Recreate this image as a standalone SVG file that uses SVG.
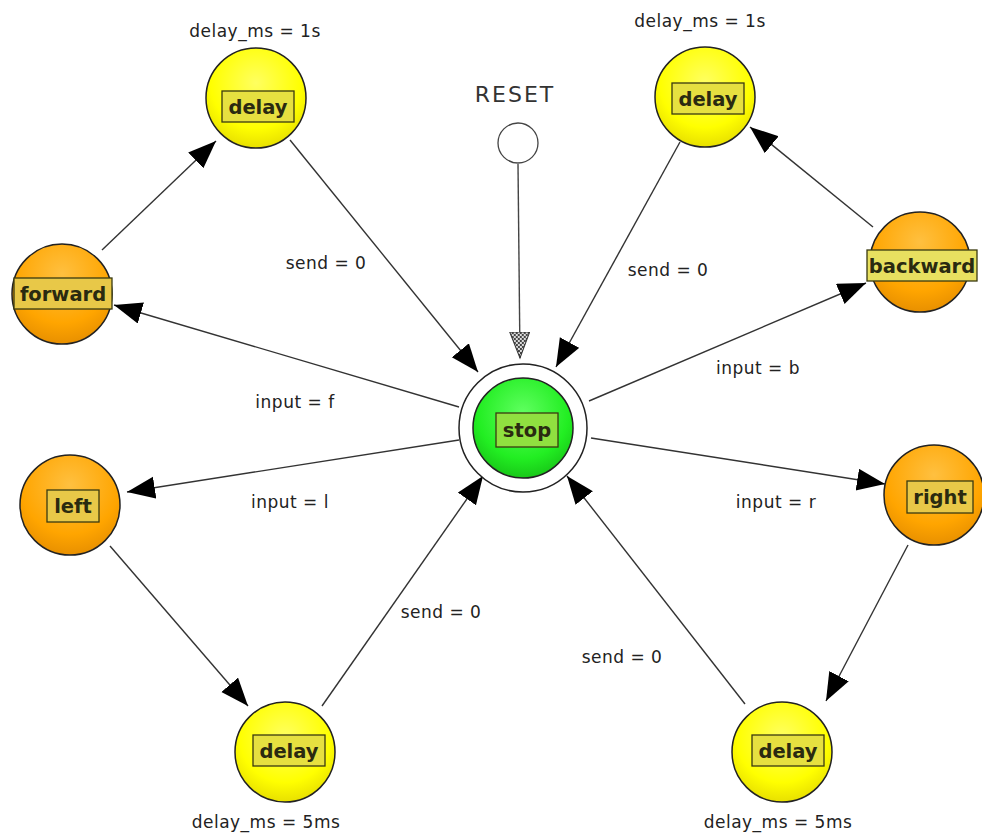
<svg xmlns="http://www.w3.org/2000/svg" width="982" height="834" viewBox="0 0 982 834">
  <style>
    .edge { stroke: #333; stroke-width: 1.4; fill: none; marker-end: url(#arrow); }
    .init { stroke: #444; stroke-width: 1.4; fill: none; marker-end: url(#hatched); }
    .ring { stroke: #222; stroke-width: 1.5; }
    .tag { stroke: #3a3a10; stroke-width: 1.3; }
    .name { font-family: "DejaVu Sans", Verdana, sans-serif; font-weight: bold; font-size: 19.5px; fill: #2a2a10; text-anchor: middle; }
    .lbl { font-family: "DejaVu Sans", Verdana, sans-serif; font-size: 17px; letter-spacing: 0.5px; fill: #222; text-anchor: middle; }
  </style>
  <defs>
    <marker id="arrow" markerUnits="userSpaceOnUse" markerWidth="30" markerHeight="24" refX="28" refY="11" orient="auto">
      <path d="M0,0 L28,11 L0,22 Z" fill="#000"/>
    </marker>
    <pattern id="check" width="4" height="4" patternUnits="userSpaceOnUse">
      <rect width="4" height="4" fill="#ddd"/>
      <rect width="2" height="2" fill="#444"/>
      <rect x="2" y="2" width="2" height="2" fill="#444"/>
    </pattern>
    <marker id="hatched" markerUnits="userSpaceOnUse" markerWidth="30" markerHeight="24" refX="26" refY="10" orient="auto">
      <path d="M0,0 L26,10 L0,20 Z" fill="url(#check)" stroke="#333" stroke-width="1"/>
    </marker>
    <radialGradient id="gYellow" cx="0.5" cy="0.35" r="0.65">
      <stop offset="0" stop-color="#ffff60"/>
      <stop offset="0.7" stop-color="#ffff00"/>
      <stop offset="1" stop-color="#e8e000"/>
    </radialGradient>
    <radialGradient id="gOrange" cx="0.5" cy="0.3" r="0.7">
      <stop offset="0" stop-color="#ffc040"/>
      <stop offset="0.7" stop-color="#ffa500"/>
      <stop offset="1" stop-color="#e89000"/>
    </radialGradient>
    <radialGradient id="gGreen" cx="0.5" cy="0.35" r="0.65">
      <stop offset="0" stop-color="#60ff60"/>
      <stop offset="0.7" stop-color="#22ee22"/>
      <stop offset="1" stop-color="#18c818"/>
    </radialGradient>
  </defs>

  <rect width="982" height="834" fill="#fff"/>

  <!-- transitions -->
  <g id="connectors">
    <line class="init" x1="518" y1="164" x2="520" y2="358"/>
    <line class="edge" x1="290" y1="140" x2="478" y2="372"/>
    <line class="edge" x1="102" y1="250" x2="216" y2="141"/>
    <line class="edge" x1="459" y1="407" x2="114" y2="305"/>
    <line class="edge" x1="459" y1="440" x2="127" y2="492"/>
    <line class="edge" x1="110" y1="546" x2="248" y2="706"/>
    <line class="edge" x1="322" y1="706" x2="483" y2="476"/>
    <line class="edge" x1="745" y1="704" x2="567" y2="476"/>
    <line class="edge" x1="908" y1="545" x2="826" y2="701"/>
    <line class="edge" x1="591" y1="438" x2="885" y2="484"/>
    <line class="edge" x1="589" y1="401" x2="866" y2="283"/>
    <line class="edge" x1="873" y1="227" x2="750" y2="127"/>
    <line class="edge" x1="680" y1="142" x2="556" y2="367"/>

    <text class="lbl" x="326" y="269">send = 0</text>
    <text class="lbl" x="668" y="276">send = 0</text>
    <text class="lbl" x="758" y="374">input = b</text>
    <text class="lbl" x="295" y="408">input = f</text>
    <text class="lbl" x="290" y="508">input = l</text>
    <text class="lbl" x="776" y="508">input = r</text>
    <text class="lbl" x="441" y="618">send = 0</text>
    <text class="lbl" x="622" y="663">send = 0</text>
  </g>

  <!-- initial pseudo-state -->
  <g id="reset">
    <circle cx="518" cy="143" r="20" fill="#fff" stroke="#444" stroke-width="1.3"/>
    <text x="515" y="102" font-family="DejaVu Sans, Verdana, sans-serif" font-size="22" letter-spacing="2" fill="#333" text-anchor="middle">RESET</text>
  </g>

  <g id="stop">
    <circle cx="523" cy="428" r="64" fill="#fff" class="ring"/>
    <circle cx="523" cy="428" r="50" fill="url(#gGreen)" class="ring"/>
    <rect x="496" y="413" width="62" height="34" fill="#90e040" class="tag"/>
    <text class="name" x="527" y="437">stop</text>
  </g>

  <g id="delay_fwd">
    <text class="lbl" x="255" y="37">delay_ms = 1s</text>
    <circle cx="256" cy="98" r="50" fill="url(#gYellow)" class="ring"/>
    <rect x="222" y="91" width="72" height="31" fill="#e6e040" class="tag"/>
    <text class="name" x="258" y="114">delay</text>
  </g>

  <g id="forward">
    <circle cx="62" cy="294" r="50" fill="url(#gOrange)" class="ring"/>
    <rect x="14" y="278" width="98" height="31" fill="#e8c848" class="tag"/>
    <text class="name" x="63" y="301">forward</text>
  </g>

  <g id="delay_back">
    <text class="lbl" x="700" y="27">delay_ms = 1s</text>
    <circle cx="705" cy="97" r="50" fill="url(#gYellow)" class="ring"/>
    <rect x="672" y="83" width="72" height="31" fill="#e6e040" class="tag"/>
    <text class="name" x="708" y="106">delay</text>
  </g>

  <g id="backward">
    <circle cx="920" cy="262" r="50" fill="url(#gOrange)" class="ring"/>
    <rect x="867" y="250" width="110" height="31" fill="#e8e060" class="tag"/>
    <text class="name" x="922" y="273">backward</text>
  </g>

  <g id="left">
    <circle cx="70" cy="505" r="50" fill="url(#gOrange)" class="ring"/>
    <rect x="47" y="490" width="52" height="32" fill="#e8c848" class="tag"/>
    <text class="name" x="73" y="513">left</text>
  </g>

  <g id="delay_left">
    <circle cx="285" cy="752" r="50" fill="url(#gYellow)" class="ring"/>
    <rect x="253" y="735" width="72" height="31" fill="#e6e040" class="tag"/>
    <text class="name" x="289" y="758">delay</text>
    <text class="lbl" x="266" y="828">delay_ms = 5ms</text>
  </g>

  <g id="right">
    <circle cx="934" cy="495" r="50" fill="url(#gOrange)" class="ring"/>
    <rect x="907" y="481" width="66" height="32" fill="#e8c848" class="tag"/>
    <text class="name" x="940" y="504">right</text>
  </g>

  <g id="delay_right">
    <circle cx="782" cy="752" r="50" fill="url(#gYellow)" class="ring"/>
    <rect x="752" y="735" width="72" height="31" fill="#e6e040" class="tag"/>
    <text class="name" x="788" y="758">delay</text>
    <text class="lbl" x="778" y="828">delay_ms = 5ms</text>
  </g>
</svg>
